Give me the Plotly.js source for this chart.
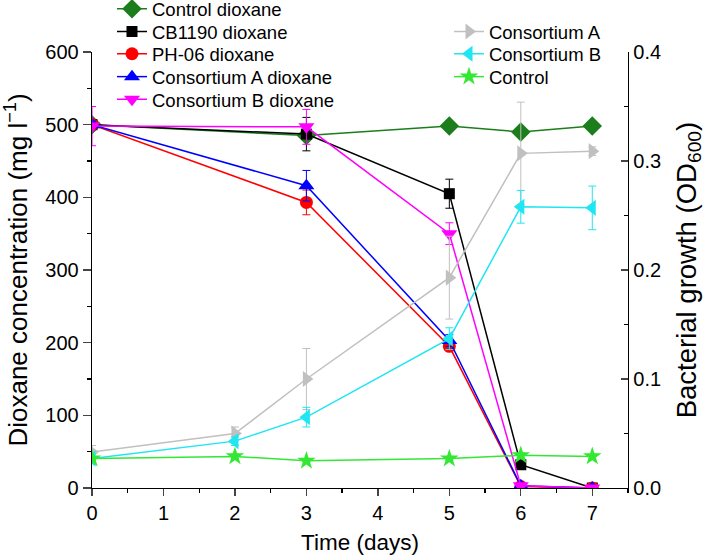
<!DOCTYPE html>
<html>
<head>
<meta charset="utf-8">
<script src="https://cdn.plot.ly/plotly-3.0.1.min.js"></script>
<style>html,body{margin:0;padding:0;background:#fff;}#chart{width:709px;height:556px;}</style>
</head>
<body>
<div id="chart"></div>
<script>
// Dioxane concentration (mg/l), left axis
const daysDiox = [0, 3, 5, 6, 7];
const controlDiox = [500, 485, 498, 490, 498];
const controlDioxErr = [3, 4, 3, 4, 3];
const cb1190Diox = [500, 487, 405, 32, 0];
const cb1190DioxErr = [5, 23, 20, 4, 1];
const ph06Diox = [500, 393, 195, 2, 0];
const ph06DioxErr = [5, 17, 6, 1, 1];
const consADiox = [500, 416, 203, 3, 0];
const consADioxErr = [5, 21, 8, 1, 1];
const consBDiox = [498, 497, 350, 3, 0];
const consBDioxErr = [27, 24, 15, 1, 1];

// Bacterial growth (OD600), right axis
const daysGrowth = [0, 2, 3, 5, 6, 7];
const consAGrowth = [0.033, 0.050, 0.100, 0.193, 0.307, 0.309];
const consAGrowthErr = [0.006, 0.006, 0.028, 0.038, 0.047, 0.004];
const consBGrowth = [0.027, 0.043, 0.065, 0.137, 0.258, 0.257];
const consBGrowthErr = [0.004, 0.004, 0.009, 0.010, 0.015, 0.020];
const controlGrowth = [0.027, 0.029, 0.025, 0.027, 0.030, 0.029];
const controlGrowthErr = [0.002, 0.002, 0.002, 0.002, 0.002, 0.002];

const xTickVals = [0, 1, 2, 3, 4, 5, 6, 7];

function tr(name, x, y, err, color, symbol, size, yaxis, legend) {
  return {
    type: 'scatter', mode: 'lines+markers', name: name, x: x, y: y,
    yaxis: yaxis, legend: legend,
    line: {color: color, width: 1.5},
    marker: {color: color, symbol: symbol, size: size},
    error_y: {type: 'data', array: err, visible: true, color: color, thickness: 1, width: 4}
  };
}

const data = [
  tr('Consortium A', daysGrowth, consAGrowth, consAGrowthErr, '#c0c0c0', 'triangle-right', 14, 'y2', 'legend6'),
  tr('Consortium B', daysGrowth, consBGrowth, consBGrowthErr, '#1fe6f2', 'triangle-left', 14, 'y2', 'legend7'),
  tr('Control', daysGrowth, controlGrowth, controlGrowthErr, '#33e833', 'star', 14, 'y2', 'legend8'),
  tr('Control dioxane', daysDiox, controlDiox, controlDioxErr, '#1b7d1b', 'diamond', 15, 'y', 'legend'),
  tr('CB1190 dioxane', daysDiox, cb1190Diox, cb1190DioxErr, '#000000', 'square', 11, 'y', 'legend2'),
  tr('PH-06 dioxane', daysDiox, ph06Diox, ph06DioxErr, '#ff0000', 'circle', 13, 'y', 'legend3'),
  tr('Consortium A dioxane', daysDiox, consADiox, consADioxErr, '#0000ff', 'triangle-up', 14, 'y', 'legend4'),
  tr('Consortium B dioxane', daysDiox, consBDiox, consBDioxErr, '#ff00ff', 'triangle-down', 14, 'y', 'legend5')
];

const fam = 'Liberation Sans, Arial, sans-serif';
const legFont = {family: fam, size: 18.5, color: '#000'};

function leg(x, y) {
  return {x: x, y: y, xanchor: 'left', yanchor: 'top', bgcolor: 'rgba(0,0,0,0)', font: legFont};
}
const rowY = [1.1415, 1.0895, 1.0385, 0.9860, 0.9340];
const leftX = 0.0373, rightX = 0.666;

const layout = {
  width: 709, height: 556,
  margin: {l: 92, r: 81, t: 52, b: 68, autoexpand: false},
  paper_bgcolor: '#fff', plot_bgcolor: '#fff',
  font: {family: fam, size: 20, color: '#000'},
  showlegend: true,
  xaxis: {
    range: [0, 7.5], tickvals: xTickVals, ticks: 'outside', ticklen: 7, tickwidth: 1.3,
    showline: true, linecolor: '#000', linewidth: 1.3, showgrid: false, zeroline: false,
    tickfont: {size: 20},
    minor: {ticks: 'outside', dtick: 0.5, ticklen: 4, tickwidth: 1.3, tickcolor: '#000', showgrid: false},
    title: {text: 'Time (days)', font: {size: 22.5}, standoff: 11}
  },
  yaxis: {
    range: [0, 600], dtick: 100, ticks: 'outside', ticklen: 8, tickwidth: 1.3,
    showline: true, linecolor: '#000', linewidth: 1.3, showgrid: false, zeroline: false,
    tickfont: {size: 20},
    minor: {ticks: 'outside', dtick: 50, ticklen: 4, tickwidth: 1.3, tickcolor: '#000', showgrid: false},
    title: {text: 'Dioxane concentration (mg l<sup>\u22121</sup>)', font: {size: 26}, standoff: 12}
  },
  yaxis2: {
    overlaying: 'y', side: 'right', anchor: 'x',
    range: [0, 0.4], dtick: 0.1, tickformat: '.1f', ticks: 'inside', ticklen: 7, tickwidth: 1.3,
    showline: true, linecolor: '#000', linewidth: 1.3, showgrid: false, zeroline: false,
    tickfont: {size: 20},
    minor: {ticks: 'inside', dtick: 0.05, ticklen: 4, tickwidth: 1.3, tickcolor: '#000', showgrid: false},
    title: {text: 'Bacterial growth (OD<sub>600</sub>)', font: {size: 27.5}, standoff: 16}
  },
  legend: leg(leftX, rowY[0]),
  legend2: leg(leftX, rowY[1]),
  legend3: leg(leftX, rowY[2]),
  legend4: leg(leftX, rowY[3]),
  legend5: leg(leftX, rowY[4]),
  legend6: leg(rightX, rowY[1]),
  legend7: leg(rightX, rowY[2]),
  legend8: leg(rightX, rowY[3])
};

Plotly.newPlot('chart', data, layout, {displayModeBar: false, staticPlot: true});
</script>
</body>
</html>
